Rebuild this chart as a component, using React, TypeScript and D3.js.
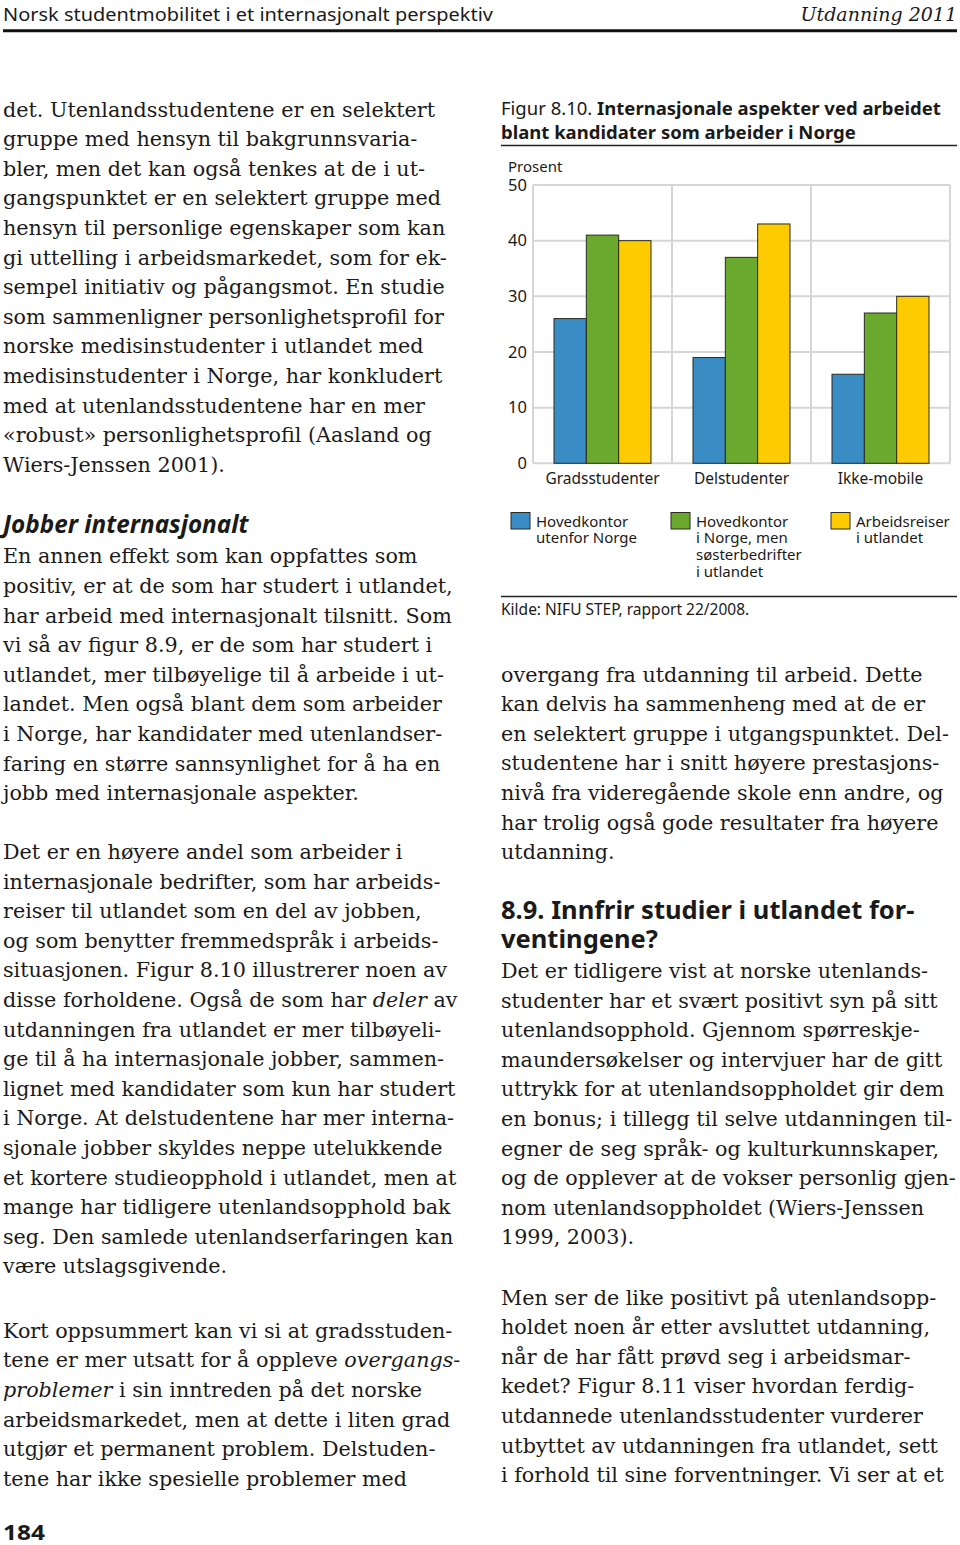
import React from "react";
import * as d3 from "d3";

// ---------- Chart data ----------
const categories = ["Gradsstudenter", "Delstudenter", "Ikke-mobile"];
const seriesNames = ["hovedUtenfor", "hovedNorge", "reiser"];
const hovedkontorUtenfor = [26, 19, 16];
const hovedkontorNorge = [41, 37, 27];
const arbeidsreiser = [40, 43, 30];
const seriesValues = [hovedkontorUtenfor, hovedkontorNorge, arbeidsreiser];
const seriesColors = ["#3a8cc4", "#6aa82e", "#fecb00"];
const legendLabels = [
  ["Hovedkontor", "utenfor Norge"],
  ["Hovedkontor", "i Norge, men", "søsterbedrifter", "i utlandet"],
  ["Arbeidsreiser", "i utlandet"],
];
const yTicks = [0, 10, 20, 30, 40, 50];

// ---------- Page text ----------
const leftPara1 = [
  "det. Utenlandsstudentene er en selektert",
  "gruppe med hensyn til bakgrunnsvaria-",
  "bler, men det kan også tenkes at de i ut-",
  "gangspunktet er en selektert gruppe med",
  "hensyn til personlige egenskaper som kan",
  "gi uttelling i arbeidsmarkedet, som for ek-",
  "sempel initiativ og pågangsmot. En studie",
  "som sammenligner personlighetsprofil for",
  "norske medisinstudenter i utlandet med",
  "medisinstudenter i Norge, har konkludert",
  "med at utenlandsstudentene har en mer",
  "«robust» personlighetsprofil (Aasland og",
  "Wiers-Jenssen 2001).",
];
const leftPara2 = [
  "En annen effekt som kan oppfattes som",
  "positiv, er at de som har studert i utlandet,",
  "har arbeid med internasjonalt tilsnitt. Som",
  "vi så av figur 8.9, er de som har studert i",
  "utlandet, mer tilbøyelige til å arbeide i ut-",
  "landet. Men også blant dem som arbeider",
  "i Norge, har kandidater med utenlandser-",
  "faring en større sannsynlighet for å ha en",
  "jobb med internasjonale aspekter.",
];
const leftPara3 = [
  "Det er en høyere andel som arbeider i",
  "internasjonale bedrifter, som har arbeids-",
  "reiser til utlandet som en del av jobben,",
  "og som benytter fremmedspråk i arbeids-",
  "situasjonen. Figur 8.10 illustrerer noen av",
  "disse forholdene. Også de som har *deler* av",
  "utdanningen fra utlandet er mer tilbøyeli-",
  "ge til å ha internasjonale jobber, sammen-",
  "lignet med kandidater som kun har studert",
  "i Norge. At delstudentene har mer interna-",
  "sjonale jobber skyldes neppe utelukkende",
  "et kortere studieopphold i utlandet, men at",
  "mange har tidligere utenlandsopphold bak",
  "seg. Den samlede utenlandserfaringen kan",
  "være utslagsgivende.",
];
const leftPara4 = [
  "Kort oppsummert kan vi si at gradsstuden-",
  "tene er mer utsatt for å oppleve *overgangs-*",
  "*problemer* i sin inntreden på det norske",
  "arbeidsmarkedet, men at dette i liten grad",
  "utgjør et permanent problem. Delstuden-",
  "tene har ikke spesielle problemer med",
];
const rightPara1 = [
  "overgang fra utdanning til arbeid. Dette",
  "kan delvis ha sammenheng med at de er",
  "en selektert gruppe i utgangspunktet. Del-",
  "studentene har i snitt høyere prestasjons-",
  "nivå fra videregående skole enn andre, og",
  "har trolig også gode resultater fra høyere",
  "utdanning.",
];
const rightHeading = ["8.9. Innfrir studier i utlandet for-", "ventingene?"];
const rightPara2 = [
  "Det er tidligere vist at norske utenlands-",
  "studenter har et svært positivt syn på sitt",
  "utenlandsopphold. Gjennom spørreskje-",
  "maundersøkelser og intervjuer har de gitt",
  "uttrykk for at utenlandsoppholdet gir dem",
  "en bonus; i tillegg til selve utdanningen til-",
  "egner de seg språk- og kulturkunnskaper,",
  "og de opplever at de vokser personlig gjen-",
  "nom utenlandsoppholdet (Wiers-Jenssen",
  "1999, 2003).",
];
const rightPara3 = [
  "Men ser de like positivt på utenlandsopp-",
  "holdet noen år etter avsluttet utdanning,",
  "når de har fått prøvd seg i arbeidsmar-",
  "kedet? Figur 8.11 viser hvordan ferdig-",
  "utdannede utenlandsstudenter vurderer",
  "utbyttet av utdanningen fra utlandet, sett",
  "i forhold til sine forventninger. Vi ser at et",
];

const SERIF = "'DejaVu Serif', serif";
const SANS = "'Noto Sans', 'Open Sans', sans-serif";
const BODY_SIZE = 20.7;
const PITCH = 29.6;

function Line({ text, x, y }: { text: string; x: number; y: number }) {
  const parts = text.split("*");
  return (
    <text x={x} y={y} fontFamily={SERIF} fontSize={BODY_SIZE} fill="#1a1a1a">
      {parts.map((p, i) => (
        <tspan key={i} fontStyle={i % 2 === 1 ? "italic" : "normal"}>
          {p}
        </tspan>
      ))}
    </text>
  );
}

function Para({ lines, x, y }: { lines: string[]; x: number; y: number }) {
  return (
    <g>
      {lines.map((l, i) => (
        <Line key={i} text={l} x={x} y={y + i * PITCH} />
      ))}
    </g>
  );
}

function Chart() {
  const x = d3.scaleBand<string>().domain(categories).range([533, 950]).padding(0);
  const inner = d3
    .scaleBand<string>()
    .domain(seriesNames)
    .range([0, 97])
    .padding(0);
  const offset = (x.bandwidth() - 97) / 2;
  const y = d3.scaleLinear().domain([0, 50]).range([463.3, 185]);
  const gridColor = "#d6d6d6";
  const vLines = [...categories.map((c) => x(c)!), 950];
  return (
    <g>
      <text x={501} y={115} fontFamily={SANS} fontSize={18.5} fill="#1a1a1a">
        <tspan>Figur 8.10. </tspan>
        <tspan fontWeight="bold">Internasjonale aspekter ved arbeidet</tspan>
      </text>
      <text x={501} y={139} fontFamily={SANS} fontSize={18.5} fontWeight="bold" fill="#1a1a1a">
        blant kandidater som arbeider i Norge
      </text>
      <line x1={501} x2={957} y1={145.5} y2={145.5} stroke="#222" strokeWidth={1.5} />
      <text x={508} y={171.5} fontFamily={SANS} fontSize={15} fill="#1a1a1a">
        Prosent
      </text>
      {yTicks.map((t) => (
        <g key={t}>
          <line x1={533} x2={950} y1={y(t)} y2={y(t)} stroke={gridColor} strokeWidth={2} />
          <text
            x={527}
            y={y(t) + 5.6}
            textAnchor="end"
            fontFamily={SANS}
            fontSize={16.5}
            fill="#1a1a1a"
          >
            {t}
          </text>
        </g>
      ))}
      {vLines.map((v, i) => (
        <line key={i} x1={v} x2={v} y1={y(50)} y2={y(0)} stroke={gridColor} strokeWidth={2} />
      ))}
      {categories.map((c, ci) => (
        <g key={c}>
          {seriesNames.map((s, si) => {
            const v = seriesValues[si][ci];
            return (
              <rect
                key={s}
                x={x(c)! + offset + inner(s)!}
                y={y(v)}
                width={inner.bandwidth()}
                height={y(0) - y(v)}
                fill={seriesColors[si]}
                stroke="#2b2b1e"
                strokeWidth={1}
              />
            );
          })}
          <text
            x={x(c)! + x.bandwidth() / 2}
            y={484}
            textAnchor="middle"
            fontFamily={SANS}
            fontSize={15.5}
            fill="#1a1a1a"
          >
            {c}
          </text>
        </g>
      ))}
      {legendLabels.map((lab, i) => {
        const lx = [511, 671, 831][i];
        return (
          <g key={i}>
            <rect
              x={lx}
              y={512.5}
              width={19}
              height={16.5}
              fill={seriesColors[i]}
              stroke="#2b2b1e"
              strokeWidth={1}
            />
            {lab.map((t, j) => (
              <text
                key={j}
                x={lx + 25}
                y={526.5 + j * 16.9}
                fontFamily={SANS}
                fontSize={15}
                fill="#1a1a1a"
              >
                {t}
              </text>
            ))}
          </g>
        );
      })}
      <line x1={501} x2={957} y1={596.5} y2={596.5} stroke="#222" strokeWidth={1.3} />
      <text x={501} y={615} fontFamily={SANS} fontSize={15.5} fill="#1a1a1a">
        Kilde: NIFU STEP, rapport 22/2008.
      </text>
    </g>
  );
}

export default function App() {
  return (
    <svg
      width={960}
      height={1545}
      style={{ position: "absolute", left: 0, top: 0, background: "#fff" }}
    >
      <rect width={960} height={1545} fill="#fff" />
      {/* running header */}
      <text x={3} y={20.7} fontFamily={SANS} fontSize={18.8} fill="#1a1a1a" textLength={490} lengthAdjust="spacingAndGlyphs">
        Norsk studentmobilitet i et internasjonalt perspektiv
      </text>
      <text x={957} y={20.7} textAnchor="end" fontFamily={SERIF} fontStyle="italic" fontSize={19} fill="#1a1a1a">
        Utdanning 2011
      </text>
      <line x1={3} x2={957} y1={30.8} y2={30.8} stroke="#111" strokeWidth={3} />

      {/* left column */}
      <Para lines={leftPara1} x={3} y={116.5} />
      <text x={3} y={533} fontFamily={SANS} fontSize={24.3} fontWeight="bold" fontStyle="italic" fill="#1a1a1a">
        Jobber internasjonalt
      </text>
      <Para lines={leftPara2} x={3} y={563.3} />
      <Para lines={leftPara3} x={3} y={859} />
      <Para lines={leftPara4} x={3} y={1337.7} />
      <text x={3} y={1539.5} fontFamily={SANS} fontSize={21} fontWeight="bold" fill="#1a1a1a" textLength={42} lengthAdjust="spacingAndGlyphs">
        184
      </text>

      {/* right column */}
      <Chart />
      <Para lines={rightPara1} x={501} y={681.5} />
      {rightHeading.map((t, i) => (
        <text key={i} x={501} y={919.3 + i * 29} fontFamily={SANS} fontSize={25.5} fontWeight="bold" fill="#1a1a1a">
          {t}
        </text>
      ))}
      <Para lines={rightPara2} x={501} y={978} />
      <Para lines={rightPara3} x={501} y={1304.5} />
    </svg>
  );
}
